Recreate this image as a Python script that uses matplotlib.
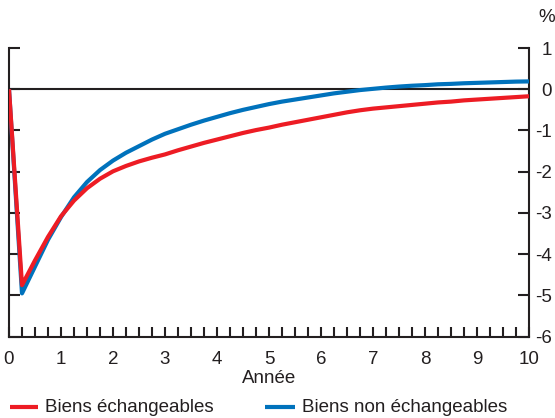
import numpy as np
import matplotlib
matplotlib.use("Agg")
import matplotlib.pyplot as plt
from matplotlib.lines import Line2D

plt.rcParams['font.family'] = ['Liberation Sans', 'DejaVu Sans']

# Quarterly horizon, in years
years = [i / 4 for i in range(41)]

series_names = ["Biens échangeables", "Biens non échangeables"]

tradables = [0.00, -4.75, -4.15, -3.58, -3.08, -2.70, -2.40, -2.17, -1.99, -1.86,
             -1.75, -1.66, -1.58, -1.48, -1.39, -1.30, -1.22, -1.14, -1.06, -0.99,
             -0.93, -0.86, -0.80, -0.74, -0.68, -0.62, -0.56, -0.51, -0.47, -0.44,
             -0.41, -0.38, -0.35, -0.32, -0.30, -0.27, -0.25, -0.23, -0.21, -0.19,
             -0.17]

non_tradables = [0.00, -4.95, -4.30, -3.65, -3.10, -2.62, -2.25, -1.96, -1.73, -1.54,
                 -1.38, -1.22, -1.08, -0.97, -0.86, -0.76, -0.67, -0.58, -0.50, -0.43,
                 -0.36, -0.30, -0.25, -0.20, -0.15, -0.10, -0.06, -0.02, 0.01, 0.04,
                 0.065, 0.085, 0.10, 0.12, 0.13, 0.145, 0.155, 0.165, 0.175, 0.185,
                 0.19]

x_ticks = list(range(0, 11))
y_ticks = [1, 0, -1, -2, -3, -4, -5, -6]

RED = "#ED1C24"
BLUE = "#0072BC"
INK = "#231F20"
FS = 13.5

fig = plt.figure(figsize=(5.55, 4.18), dpi=100)
ax = fig.add_axes([9 / 555, 81.3 / 418, 520 / 555, 288.7 / 418])

ax.axhline(0, color=INK, lw=1.5, zorder=1)
ax.plot(years, non_tradables, color=BLUE, lw=3.0, solid_capstyle='butt', zorder=3)
ax.plot(years, tradables, color=RED, lw=3.0, solid_capstyle='butt', zorder=4)

ax.set_xlim(0, 10)
ax.set_ylim(-6, 1)

for side in ("left", "right", "bottom"):
    ax.spines[side].set_linewidth(1.5)
    ax.spines[side].set_color(INK)
ax.spines["top"].set_visible(False)

ax.set_xticks(x_ticks)
ax.set_xticklabels([str(v) for v in x_ticks])
ax.set_xticks(np.arange(0, 10.01, 0.25), minor=True)
ax.tick_params(axis='x', which='both', direction='in', length=7, width=1.5,
               color=INK, top=False)
ax.tick_params(axis='x', which='major', labelsize=FS, pad=10, labelcolor=INK)

ax.set_yticks(y_ticks)
ax.set_yticklabels([str(v) for v in y_ticks])
ax.tick_params(axis='y', which='both', direction='in', length=8, width=1.5,
               color=INK, left=True, right=True, labelleft=False,
               labelright=True, labelsize=FS, pad=16.5, labelcolor=INK)
for lbl in ax.get_yticklabels():
    lbl.set_horizontalalignment('right')

ax.set_xlabel("Année", fontsize=FS, color=INK, labelpad=2)

fig.text(547 / 555, 1 - 18 / 418, "%", ha='center', va='center',
         fontsize=FS, color=INK)

# Legend row beneath the axis title
legend_y = 1 - 407 / 418
entries = [(10, 38, 45, RED), (265, 295, 302, BLUE)]
for (x0, x1, xt, col), name in zip(entries, series_names):
    fig.add_artist(Line2D([x0 / 555, x1 / 555], [legend_y, legend_y],
                          transform=fig.transFigure, color=col, lw=3.0,
                          solid_capstyle='butt'))
    fig.text(xt / 555, legend_y, name, ha='left', va='center',
             fontsize=FS, color=INK)

fig.savefig("out.png", dpi=100)
